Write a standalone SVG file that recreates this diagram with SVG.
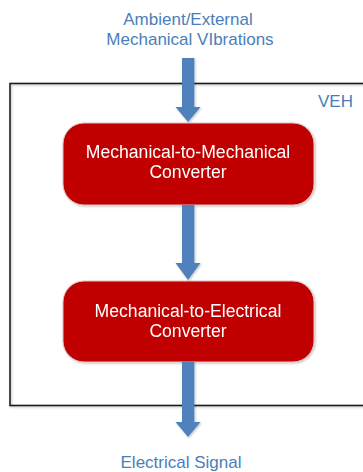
<svg xmlns="http://www.w3.org/2000/svg" width="363" height="472" viewBox="0 0 363 472">
  <defs>
    <filter id="soft" x="-10%" y="-10%" width="120%" height="130%">
      <feGaussianBlur in="SourceAlpha" stdDeviation="1.2"/>
      <feOffset dx="0.5" dy="1" result="b"/>
      <feFlood flood-color="#000" flood-opacity="0.25"/>
      <feComposite in2="b" operator="in"/>
      <feMerge><feMergeNode/><feMergeNode in="SourceGraphic"/></feMerge>
    </filter>
  </defs>
  <style>
    .label { font-family: "Liberation Sans", Arial, sans-serif; fill: #4A7EBB; font-size: 17px; }
    .node rect { fill: #C00000; stroke: #E3C2C2; stroke-width: 1; }
    .node text { font-family: "Liberation Sans", Arial, sans-serif; fill: #FFFFFF; font-size: 17.6px; text-anchor: middle; }
    .arrow { fill: #4F81BD; }
  </style>

  <!-- VEH boundary -->
  <g id="veh">
    <rect x="10" y="83.5" width="370" height="322" fill="none" stroke="#1E1E1E" stroke-width="1.6" filter="url(#soft)"/>
    <text class="label" x="318" y="107" font-size="15">VEH</text>
  </g>

  <!-- input / output labels -->
  <g id="input">
    <text class="label" x="188" y="25" text-anchor="middle">Ambient/External</text>
    <text class="label" x="190" y="45" text-anchor="middle">Mechanical VIbrations</text>
  </g>
  <g id="output">
    <text class="label" x="181" y="468" text-anchor="middle">Electrical Signal</text>
  </g>

  <!-- blocks -->
  <g id="mech-mech" class="node" filter="url(#soft)">
    <rect x="63" y="123" width="251" height="82" rx="21" ry="21"/>
    <text x="188" y="158">Mechanical-to-Mechanical</text>
    <text x="188" y="178">Converter</text>
  </g>
  <g id="mech-elec" class="node" filter="url(#soft)">
    <rect x="63" y="281" width="251" height="81" rx="21" ry="21"/>
    <text x="188" y="317">Mechanical-to-Electrical</text>
    <text x="188" y="337">Converter</text>
  </g>

  <!-- block arrows -->
  <g id="connectors" filter="url(#soft)">
    <polygon class="arrow" points="182,58 194.3,58 194.3,107 200.5,107 188,122 175.5,107 182,107"/>
    <polygon class="arrow" points="182,205 194.3,205 194.3,263 200.5,263 188,280 175.5,263 182,263"/>
    <polygon class="arrow" points="182,362 194.3,362 194.3,422 200.5,422 188,437 175.5,422 182,422"/>
  </g>
</svg>
